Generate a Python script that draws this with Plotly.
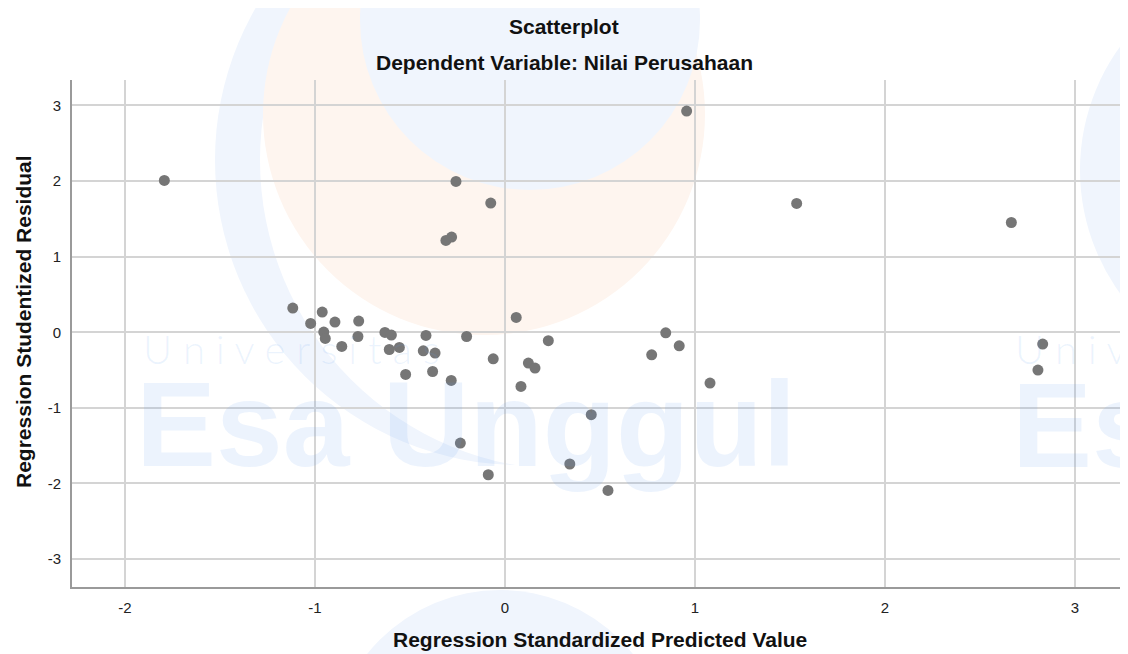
import plotly.graph_objects as go

# Regression Standardized Predicted Value
pred = [-1.793, 0.956, -0.258, -0.075, -0.281, -0.311, 1.535, 2.665, 2.830, 2.805,
        1.079, -1.117, -1.023, -0.962, -0.954, -0.946, -0.895, -0.859, -0.770, -0.774,
        -0.632, -0.598, -0.609, -0.556, -0.523, -0.416, -0.430, -0.368, -0.381, -0.283,
        -0.202, -0.235, -0.062, -0.088, 0.059, 0.084, 0.123, 0.158, 0.228, 0.454,
        0.341, 0.542, 0.846, 0.917, 0.772]
# Regression Studentized Residual
resid = [2.008, 2.926, 1.995, 1.709, 1.259, 1.214, 1.704, 1.452, -0.156, -0.500,
         -0.672, 0.320, 0.116, 0.267, 0.003, -0.082, 0.135, -0.188, 0.148, -0.056,
         -0.003, -0.037, -0.228, -0.201, -0.558, -0.042, -0.245, -0.275, -0.519, -0.638,
         -0.056, -1.466, -0.351, -1.885, 0.196, -0.717, -0.407, -0.474, -0.112, -1.091,
         -1.743, -2.093, -0.007, -0.179, -0.298]

tick_vals = [-3, -2, -1, 0, 1, 2, 3]
tick_text = ["-3", "-2", "-1", "0", "1", "2", "3"]

title_text = "Scatterplot"
subtitle_text = "Dependent Variable: Nilai Perusahaan"
x_title = "Regression Standardized Predicted Value"
y_title = "Regression Studentized Residual"

FONT = "Liberation Sans, Arial, sans-serif"
OFF = 8                      # default page body margin
W, H = 1120, 646
L, R, T, B = 64, 0, 72, 67
PW, PH = W - L - R, H - T - B


def px(xp):
    """page pixel x -> paper fraction"""
    return (xp - OFF - L) / PW


def py(yp):
    """page pixel y -> paper fraction"""
    return (H - B - (yp - OFF)) / PH


def circle(cx, cy, r, color):
    return dict(type="circle", xref="paper", yref="paper", layer="below",
                x0=px(cx - r), x1=px(cx + r), y0=py(cy + r), y1=py(cy - r),
                fillcolor=color, line=dict(width=0))


fig = go.Figure()
fig.add_trace(go.Scatter(
    x=pred, y=resid, mode="markers",
    marker=dict(size=11, color="#767676", line=dict(width=0)),
    hoverinfo="x+y", showlegend=False,
))

# faint background logo watermark (decorative)
wm_blue_fill = "#f0f5fd"
wm_orange_fill = "#fef5ef"
shapes = [
    circle(520, 160, 305, wm_blue_fill),
    circle(570, 160, 310, "white"),
    circle(484, 114, 221, wm_orange_fill),
    circle(530, 20, 170, wm_blue_fill),
    circle(1290, 170, 210, wm_blue_fill),
    circle(500, 760, 170, wm_blue_fill),
]

wm_text = "rgba(100,160,240,0.12)"
txt = "#111111"
annotations = [
    dict(text="U n i v e r s i t a s", x=px(141), y=py(349), xref="paper", yref="paper",
         xanchor="left", yanchor="middle", showarrow=False,
         font=dict(family="Lato", size=40, weight=300, color=wm_text)),
    dict(text="<b>Esa Unggul</b>", x=px(134), y=py(425), xref="paper", yref="paper",
         xanchor="left", yanchor="middle", showarrow=False,
         font=dict(family=FONT, size=120, color=wm_text)),
    dict(text="U n i v", x=px(1013), y=py(349), xref="paper", yref="paper",
         xanchor="left", yanchor="middle", showarrow=False,
         font=dict(family="Lato", size=40, weight=300, color=wm_text)),
    dict(text="<b>Es</b>", x=px(1010), y=py(425), xref="paper", yref="paper",
         xanchor="left", yanchor="middle", showarrow=False,
         font=dict(family=FONT, size=120, color=wm_text)),
    dict(text="<b>" + title_text + "</b>", x=px(564), y=py(27), xref="paper", yref="paper",
         xanchor="center", yanchor="middle", showarrow=False,
         font=dict(family=FONT, size=21, color=txt)),
    dict(text="<b>" + subtitle_text + "</b>", x=px(564), y=py(62), xref="paper", yref="paper",
         xanchor="center", yanchor="middle", showarrow=False,
         font=dict(family=FONT, size=21, color=txt)),
    dict(text="<b>" + x_title + "</b>", x=px(600), y=py(639), xref="paper", yref="paper",
         xanchor="center", yanchor="middle", showarrow=False,
         font=dict(family=FONT, size=21, color=txt)),
    dict(text="<b>" + y_title + "</b>", x=px(23), y=py(322), xref="paper", yref="paper",
         xanchor="center", yanchor="middle", showarrow=False, textangle=-90,
         font=dict(family=FONT, size=21, color=txt)),
]

fig.update_layout(
    width=W, height=H,
    margin=dict(l=L, r=R, t=T, b=B, autoexpand=False),
    paper_bgcolor="white", plot_bgcolor="rgba(0,0,0,0)",
    font=dict(family=FONT, color="#222222"),
    xaxis=dict(
        range=[-2.279, 3.279], tickvals=tick_vals, ticktext=tick_text,
        showgrid=True, gridcolor="#d4d4d4", gridwidth=1.5,
        zeroline=False, showline=True, linecolor="#9a9a9a", linewidth=2,
        ticks="", tickfont=dict(size=15, color="#222222"), ticklabelstandoff=6,
        automargin=False, fixedrange=True,
    ),
    yaxis=dict(
        range=[-3.370, 3.337], tickvals=tick_vals, ticktext=tick_text,
        showgrid=True, gridcolor="#d4d4d4", gridwidth=1.5,
        zeroline=False, showline=True, linecolor="#9a9a9a", linewidth=2,
        ticks="", tickfont=dict(size=15, color="#222222"), ticklabelstandoff=6,
        automargin=False, fixedrange=True,
    ),
    shapes=shapes,
    annotations=annotations,
)

fig.write_html("out.html")
